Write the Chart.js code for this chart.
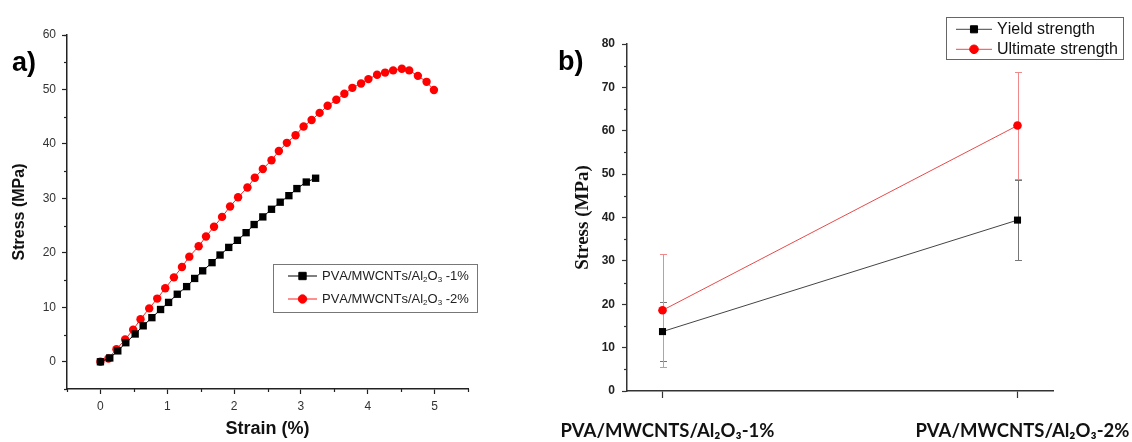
<!DOCTYPE html>
<html><head><meta charset="utf-8">
<script src="https://cdn.jsdelivr.net/npm/chart.js@4/dist/chart.umd.min.js"></script>
<style>
html,body{margin:0;padding:0;background:#fff;width:1132px;height:442px;overflow:hidden}
#wa{position:absolute;left:0;top:0;width:540px;height:442px}
#wb{position:absolute;left:540px;top:0;width:592px;height:442px}
.lbl{position:absolute;font-family:"Liberation Sans",Arial,sans-serif;font-weight:bold;font-size:27px;line-height:32px;color:#000}
</style></head><body>
<div id="wa"><canvas id="ca" width="540" height="442"></canvas></div>
<div id="wb"><canvas id="cb" width="592" height="442"></canvas></div>
<div class="lbl" style="left:12px;top:46px">a)</div>
<div class="lbl" style="left:558px;top:45px">b)</div>
<script>
// ---------- Panel a data ----------
const strain1 = [0,0.14,0.26,0.38,0.52,0.64,0.77,0.90,1.02,1.15,1.29,1.41,1.53,1.67,1.79,1.92,2.05,2.18,2.30,2.43,2.56,2.69,2.82,2.94,3.08,3.22];
const stress1 = [0,0.7,2.0,3.5,5.1,6.6,8.1,9.6,10.9,12.4,13.8,15.3,16.7,18.2,19.6,21.0,22.3,23.7,25.2,26.6,28.0,29.3,30.5,31.8,33.0,33.7];
const strain2 = [0,0.12,0.24,0.37,0.49,0.60,0.73,0.85,0.97,1.10,1.22,1.33,1.47,1.58,1.70,1.82,1.94,2.06,2.20,2.31,2.43,2.56,2.67,2.79,2.92,3.04,3.16,3.28,3.40,3.53,3.65,3.77,3.90,4.01,4.14,4.26,4.38,4.51,4.62,4.75,4.88,4.99];
const stress2 = [0,0.6,2.3,4.1,5.9,7.8,9.8,11.6,13.5,15.5,17.4,19.3,21.2,23.0,24.8,26.6,28.5,30.2,32.0,33.8,35.4,37.0,38.7,40.2,41.6,43.2,44.4,45.7,47.0,48.1,49.2,50.3,51.1,51.9,52.7,53.1,53.5,53.8,53.5,52.5,51.4,49.9];
const seriesA = ['PVA/MWCNTs/Al₂O₃ -1%','PVA/MWCNTs/Al₂O₃ -2%'];
const aXTicks = [0,1,2,3,4,5];
const aYTicks = [0,10,20,30,40,50,60];
// ---------- Panel b data ----------
const bCategories = ['PVA/MWCNTS/Al₂O₃-1%','PVA/MWCNTS/Al₂O₃-2%'];
const seriesB = ['Yield strength','Ultimate strength'];
const yieldStrength = [13.7,39.4];
const yieldErr = [6.8,9.2];
const ultimateStrength = [18.6,61.2];
const ultimateErr = [13.1,12.3];
const bYTicks = [0,10,20,30,40,50,60,70,80];

const SANS = '"Liberation Sans", Arial, sans-serif';
const SUB = {'₀':'0','₁':'1','₂':'2','₃':'3','₄':'4','₅':'5','₆':'6','₇':'7','₈':'8','₉':'9'};

function drawRich(ctx, text, x, y, size, family, weight, color){
  ctx.fillStyle = color; ctx.textBaseline = 'middle'; ctx.textAlign = 'left';
  let cx = x;
  for (const ch of text){
    if (SUB[ch]){
      ctx.font = weight+' '+Math.round(size*0.62)+'px '+family;
      ctx.fillText(SUB[ch], cx, y + size*0.32);
      cx += ctx.measureText(SUB[ch]).width;
    } else {
      ctx.font = weight+' '+size+'px '+family;
      ctx.fillText(ch, cx, y);
      cx += ctx.measureText(ch).width;
    }
  }
}

const minorTicks = {
  id:'minorTicks',
  afterDraw(chart, args, o){
    const ctx = chart.ctx, ca = chart.chartArea;
    ctx.save(); ctx.strokeStyle = o.color; ctx.lineWidth = 1.2;
    const xs = chart.scales.x, ys = chart.scales.y;
    const mid = t => { const r=[]; for(let i=0;i<t.length-1;i++) r.push((t[i]+t[i+1])/2); return r; };
    let xm = mid(o.xTicks); if (o.xEnds) xm = [xs.min, ...xm, xs.max];
    let ym = mid(o.yTicks); if (o.yEnds) ym = [ys.min, ...ym, ys.max];
    if (o.doX) xm.forEach(v=>{ const p=Math.round(xs.getPixelForValue(v))+0.5; ctx.beginPath(); ctx.moveTo(p,ca.bottom); ctx.lineTo(p,ca.bottom+o.len); ctx.stroke(); });
    ym.forEach(v=>{ const p=Math.round(ys.getPixelForValue(v))+0.5; ctx.beginPath(); ctx.moveTo(ca.left,p); ctx.lineTo(ca.left-o.len,p); ctx.stroke(); });
    ctx.restore();
  }
};

const customLegend = {
  id:'customLegend',
  afterDraw(chart, args, o){
    const ctx = chart.ctx;
    ctx.save();
    ctx.strokeStyle = o.borderColor; ctx.lineWidth = 1;
    ctx.strokeRect(o.left+0.5, o.top+0.5, o.width, o.height);
    chart.data.datasets.forEach((ds,i)=>{
      const cy = o.top + o.firstRow + i*o.rowGap;
      ctx.strokeStyle = ds.borderColor; ctx.lineWidth = 1;
      ctx.beginPath(); ctx.moveTo(o.lineX, cy); ctx.lineTo(o.lineX+o.lineLen, cy); ctx.stroke();
      ctx.fillStyle = ds.pointBackgroundColor; ctx.strokeStyle = ds.pointBorderColor;
      Chart.helpers.drawPoint(ctx, {pointStyle: ds.pointStyle, radius: ds.pointRadius, borderWidth: 1, rotation: 0}, o.lineX+o.lineLen/2, cy);
      drawRich(ctx, ds.label, o.textX, cy, o.fontSize, SANS, 'normal', o.color);
    });
    ctx.restore();
  }
};

const errorBars = {
  id:'errorBars',
  beforeDatasetsDraw(chart, args, o){
    const ctx = chart.ctx, xs = chart.scales.x, ys = chart.scales.y;
    ctx.save(); ctx.lineWidth = 1;
    chart.data.datasets.forEach((ds,i)=>{
      const err = o.errors[i];
      ctx.strokeStyle = o.colors[i];
      ds.data.forEach((pt,j)=>{
        const px = Math.round(xs.getPixelForValue(pt.x))+0.5;
        const yt = Math.round(ys.getPixelForValue(pt.y+err[j]))+0.5;
        const yb = Math.round(ys.getPixelForValue(pt.y-err[j]))+0.5;
        ctx.beginPath();
        ctx.moveTo(px,yt); ctx.lineTo(px,yb);
        ctx.moveTo(px-o.cap,yt); ctx.lineTo(px+o.cap,yt);
        ctx.moveTo(px-o.cap,yb); ctx.lineTo(px+o.cap,yb);
        ctx.stroke();
      });
    });
    ctx.restore();
  }
};

const noPad = s => { s.paddingLeft = 0; s.paddingRight = 0; s.paddingTop = 0; s.paddingBottom = 0; };

// ---------- Chart a ----------
new Chart(document.getElementById('ca'), {
  type:'scatter',
  data:{ datasets:[
    { label: seriesA[0], data: strain1.map((x,i)=>({x, y:stress1[i]})), showLine:true,
      borderColor:'#000', borderWidth:1, pointStyle:'rect', pointRadius:5.2, pointBackgroundColor:'#000', pointBorderColor:'#000', pointBorderWidth:0 },
    { label: seriesA[1], data: strain2.map((x,i)=>({x, y:stress2[i]})), showLine:true,
      borderColor:'#ff2020', borderWidth:1, pointStyle:'circle', pointRadius:4.2, pointBackgroundColor:'#ff0000', pointBorderColor:'#ff0000', pointBorderWidth:0 }
  ]},
  options:{
    responsive:false, animation:false, devicePixelRatio:1,
    layout:{ padding:{ left:0, top:35, right:72, bottom:0 } },
    plugins:{
      legend:{ display:false }, tooltip:{ enabled:false },
      minorTicks:{ color:'#222', len:3, xTicks:aXTicks, yTicks:aYTicks, xEnds:true, yEnds:true, doX:true },
      customLegend:{ left:273, top:264, width:204, height:48, firstRow:12, rowGap:23, lineX:288, lineLen:29, textX:322, fontSize:13, borderColor:'#777', color:'#222' }
    },
    scales:{
      x:{ type:'linear', min:-0.5, max:5.5,
        afterBuildTicks: s=>{ s.ticks = aXTicks.map(v=>({value:v})); },
        afterFit: s=>{ s.height = 53; noPad(s); },
        grid:{ display:true, drawOnChartArea:false, drawTicks:true, tickLength:5, tickColor:'#222', tickWidth:1.2 },
        border:{ display:true, color:'#222', width:1.5 },
        ticks:{ color:'#333', font:{ family:SANS, size:12 }, padding:5, maxRotation:0, autoSkip:false },
        title:{ display:true, text:'Strain (%)', color:'#111', font:{ family:SANS, size:18, weight:'bold' }, padding:{ top:0, bottom:2 } }
      },
      y:{ type:'linear', min:-5, max:60,
        afterBuildTicks: s=>{ s.ticks = aYTicks.map(v=>({value:v})); },
        afterFit: s=>{ s.width = 67; noPad(s); },
        grid:{ display:true, drawOnChartArea:false, drawTicks:true, tickLength:5, tickColor:'#222', tickWidth:1.2 },
        border:{ display:true, color:'#222', width:1.5 },
        ticks:{ color:'#333', font:{ family:SANS, size:12 }, padding:6, autoSkip:false },
        title:{ display:true, text:'Stress (MPa)', color:'#111', font:{ family:SANS, size:16, weight:'bold' }, padding:{ top:10, bottom:0 } }
      }
    }
  },
  plugins:[minorTicks, customLegend]
});

// ---------- Chart b ----------
new Chart(document.getElementById('cb'), {
  type:'scatter',
  data:{ datasets:[
    { label: seriesB[0], data: yieldStrength.map((y,i)=>({x:i, y})), showLine:true,
      borderColor:'#444', borderWidth:1, pointStyle:'rect', pointRadius:5, pointBackgroundColor:'#000', pointBorderColor:'#000', pointBorderWidth:0 },
    { label: seriesB[1], data: ultimateStrength.map((y,i)=>({x:i, y})), showLine:true,
      borderColor:'#e84a4a', borderWidth:1, pointStyle:'circle', pointRadius:4.3, pointBackgroundColor:'#ff0000', pointBorderColor:'#ff0000', pointBorderWidth:0 }
  ]},
  options:{
    responsive:false, animation:false, devicePixelRatio:1,
    layout:{ padding:{ left:0, top:44, right:79, bottom:0 } },
    plugins:{
      legend:{ display:false }, tooltip:{ enabled:false },
      errorBars:{ errors:[yieldErr, ultimateErr], colors:['#777','#f08a8a'], cap:3.5 },
      minorTicks:{ color:'#333', len:3, xTicks:[0,1], yTicks:bYTicks, xEnds:false, yEnds:false, doX:false },
      customLegend:{ left:406, top:17, width:177, height:42, firstRow:12.3, rowGap:20, lineX:416, lineLen:36, textX:457, fontSize:16, borderColor:'#666', color:'#111' }
    },
    scales:{
      x:{ type:'linear', min:-0.1, max:1.1,
        afterBuildTicks: s=>{ s.ticks = bCategories.map((c,i)=>({value:i})); },
        afterFit: s=>{ s.height = 51; noPad(s); },
        grid:{ display:true, drawOnChartArea:false, drawTicks:true, tickLength:7, tickColor:'#333', tickWidth:1.2 },
        border:{ display:true, color:'#333', width:1.5 },
        ticks:{ callback:(v,i)=>bCategories[i], color:'#111', font:{ family:'Lato, "Open Sans", sans-serif', size:18.5, weight:'bold' }, padding:22, labelOffset:5, maxRotation:0, autoSkip:false }
      },
      y:{ type:'linear', min:0, max:80,
        afterBuildTicks: s=>{ s.ticks = bYTicks.map(v=>({value:v})); },
        afterFit: s=>{ s.width = 87; noPad(s); },
        grid:{ display:true, drawOnChartArea:false, drawTicks:true, tickLength:5, tickColor:'#333', tickWidth:1.2 },
        border:{ display:true, color:'#333', width:1.5 },
        ticks:{ color:'#222', font:{ family:SANS, size:12, weight:'bold' }, padding:7, autoSkip:false },
        title:{ display:true, text:'Stress (MPa)', color:'#111', font:{ family:'"Liberation Serif", "Times New Roman", serif', size:19, weight:'bold' }, padding:{ top:32, bottom:0 } }
      }
    }
  },
  plugins:[errorBars, minorTicks, customLegend]
});
</script>
</body></html>
